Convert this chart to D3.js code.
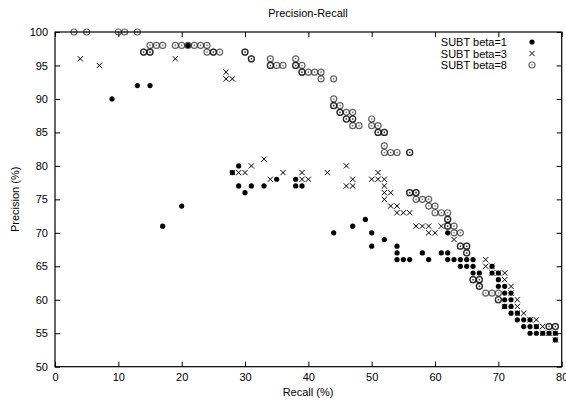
<!DOCTYPE html>
<html>
<head>
<meta charset="utf-8">
<script src="https://cdn.jsdelivr.net/npm/d3@7"></script>
<style>
  body { margin: 0; background: #fff; }
  text { font-family: "Liberation Sans", Arial, sans-serif; }
</style>
</head>
<body>
<div id="chart"></div>
<script>
// [recall, precision] pairs
const beta1Points = [
  [9, 90], [13, 92], [15, 92], [17, 71], [20, 74], [21, 98],
  [28, 79], [29, 80], [29, 77], [30, 76], [31, 77], [33, 77],
  [35, 78], [38, 78], [38, 77], [39, 77],
  [44, 70], [47, 71], [49, 72], [50, 70], [50, 68],
  [52, 69], [54, 68], [54, 67], [54, 66], [55, 66], [56, 66],
  [58, 67], [59, 66], [61, 67], [62, 67], [62, 66],
  [62, 70], [63, 66], [64, 66], [65, 66], [66, 66],
  [64, 65], [65, 65], [66, 65], [66, 64], [67, 64],
  [69, 65], [69, 64], [70, 64], [70, 63], [70, 62],
  [71, 62], [71, 61], [72, 61], [71, 60], [72, 60], [71, 59], [72, 59],
  [72, 58], [73, 58], [73, 57], [74, 57], [75, 57], [74, 56], [75, 56], [76, 56],
  [75, 55], [76, 55], [77, 55], [78, 55], [79, 55], [79, 54]
]

const beta3Points = [
  [4, 96], [7, 95], [19, 96], [27, 94], [27, 93], [28, 93],
  [28, 79], [29, 79], [30, 79], [31, 80], [33, 81], [34, 78], [36, 79],
  [39, 79], [39, 78], [40, 78], [43, 79], [46, 80], [47, 78], [46, 77], [47, 77],
  [50, 78], [51, 79], [51, 78], [52, 78], [52, 77], [52, 76], [53, 76], [52, 75],
  [53, 74], [54, 74], [54, 73], [55, 73], [56, 73], [57, 71], [58, 71], [59, 71],
  [59, 70], [60, 70], [61, 71], [63, 69], [68, 66], [68, 65], [69, 65], [69, 64],
  [70, 64], [71, 64], [71, 63], [72, 62], [72, 61], [73, 60], [71, 59], [73, 59],
  [73, 58], [74, 58], [75, 57], [76, 57], [76, 56], [77, 56], [77, 55], [78, 55],
  [79, 55], [79, 54]
]

// repeated pairs are points that were drawn more than once (they show darker)
const beta8Points = [
  [3, 100], [5, 100], [10, 100], [11, 100], [13, 100],
  [15, 98], [16, 98], [17, 98], [19, 98], [20, 98], [21, 98], [22, 98], [23, 98], [24, 98],
  [14, 97], [14, 97], [15, 97], [15, 97], [24, 97], [25, 97], [25, 97], [26, 97],
  [30, 97], [30, 97],
  [31, 96], [31, 96], [34, 96], [38, 96],
  [34, 95], [34, 95], [35, 95], [36, 95], [38, 95], [38, 95], [39, 95],
  [39, 94], [39, 94], [40, 94], [41, 94], [42, 94], [42, 93], [44, 93],
  [44, 90], [44, 89], [44, 89], [45, 89], [45, 88], [45, 88], [46, 88], [47, 88],
  [46, 87], [46, 87], [47, 87], [47, 87], [50, 87], [47, 86], [48, 86], [50, 86], [51, 86],
  [51, 85], [51, 85], [52, 85], [52, 85], [52, 83], [52, 82], [53, 82], [54, 82],
  [56, 82], [56, 82],
  [56, 76], [56, 76], [57, 76], [57, 76], [57, 75], [58, 75], [59, 75], [59, 74], [60, 74],
  [60, 73], [61, 73], [62, 73], [62, 72], [62, 72], [62, 71], [62, 71], [63, 71],
  [63, 70], [64, 70],
  [64, 68], [64, 68], [65, 68], [65, 68], [65, 67], [65, 67],
  [66, 63], [66, 63], [67, 63], [67, 63], [67, 62], [67, 62],
  [68, 61], [69, 61], [70, 61], [70, 60], [70, 60], [78, 56], [78, 56], [79, 56], [79, 56]
]

const seriesNames = ['SUBT beta=1', 'SUBT beta=3', 'SUBT beta=8']
const xTicks = [0, 10, 20, 30, 40, 50, 60, 70, 80]
const yTicks = [50, 55, 60, 65, 70, 75, 80, 85, 90, 95, 100]

const width = 566
const height = 401
const margin = { top: 32, right: 4.3, bottom: 34.3, left: 55 }

const svg = d3.select('#chart').append('svg')
  .attr('width', width)
  .attr('height', height)

const xScale = d3.scaleLinear().domain([0, 80]).range([margin.left, width - margin.right])
const yScale = d3.scaleLinear().domain([50, 100]).range([height - margin.bottom, margin.top])

const tickLen = 5

// axes, ticks pointing inward like gnuplot
const axisB = svg.append('g')
  .attr('transform', 'translate(0,' + yScale(50) + ')')
  .call(d3.axisBottom(xScale).tickValues(xTicks).tickSizeInner(-tickLen).tickSizeOuter(0).tickPadding(7))
const axisL = svg.append('g')
  .attr('transform', 'translate(' + xScale(0) + ',0)')
  .call(d3.axisLeft(yScale).tickValues(yTicks).tickSizeInner(-tickLen).tickSizeOuter(0).tickPadding(7))
const axisT = svg.append('g')
  .attr('transform', 'translate(0,' + yScale(100) + ')')
  .call(d3.axisTop(xScale).tickValues(xTicks).tickSizeInner(-tickLen).tickSizeOuter(0).tickFormat(''))
const axisR = svg.append('g')
  .attr('transform', 'translate(' + xScale(80) + ',0)')
  .call(d3.axisRight(yScale).tickValues(yTicks).tickSizeInner(-tickLen).tickSizeOuter(0).tickFormat(''))

;[axisB, axisL, axisT, axisR].forEach(g => {
  g.select('.domain').remove()
  g.selectAll('line').attr('stroke', '#000')
  g.selectAll('text').attr('font-size', 11).attr('fill', '#000')
    .attr('font-family', '"Liberation Sans", Arial, sans-serif')
})

svg.append('rect')
  .attr('x', xScale(0))
  .attr('y', yScale(100))
  .attr('width', xScale(80) - xScale(0))
  .attr('height', yScale(50) - yScale(100))
  .attr('fill', 'none')
  .attr('stroke', '#000')
  .attr('stroke-width', 1.2)

// titles
svg.append('text')
  .attr('x', 308).attr('y', 17)
  .attr('text-anchor', 'middle').attr('font-size', 11)
  .text('Precision-Recall')
svg.append('text')
  .attr('x', 308).attr('y', 396)
  .attr('text-anchor', 'middle').attr('font-size', 11)
  .text('Recall (%)')
svg.append('text')
  .attr('transform', 'translate(19,' + yScale(75) + ') rotate(-90)')
  .attr('text-anchor', 'middle').attr('font-size', 11)
  .text('Precision (%)')

// marker painters
function dot(g, x, y) {
  g.append('circle').attr('cx', x).attr('cy', y).attr('r', 2.6).attr('fill', '#000')
}
function cross(g, x, y) {
  const s = 2.6
  g.append('path')
    .attr('d', 'M' + (x - s) + ' ' + (y - s) + ' L' + (x + s) + ' ' + (y + s) +
      ' M' + (x - s) + ' ' + (y + s) + ' L' + (x + s) + ' ' + (y - s))
    .attr('stroke', '#000').attr('stroke-width', 1).attr('fill', 'none')
}
function ring(g, x, y) {
  g.append('circle').attr('cx', x).attr('cy', y).attr('r', 3)
    .attr('fill', 'none').attr('stroke', '#000').attr('stroke-opacity', 0.62)
    .attr('stroke-width', 1.2)
  g.append('circle').attr('cx', x).attr('cy', y).attr('r', 0.8)
    .attr('fill', '#000').attr('fill-opacity', 0.62)
}

const painters = [dot, cross, ring]
const allSeries = [beta1Points, beta3Points, beta8Points]

allSeries.forEach((pts, i) => {
  const g = svg.append('g').attr('class', 'series-' + i)
  pts.forEach(p => painters[i](g, xScale(p[0]), yScale(p[1])))
})

// legend
const legend = svg.append('g')
seriesNames.forEach((name, i) => {
  const y = 42 + i * 11.5
  legend.append('text')
    .attr('x', 507).attr('y', y + 4)
    .attr('text-anchor', 'end').attr('font-size', 11)
    .text(name)
  painters[i](legend, 532, y)
})
</script>
</body>
</html>
